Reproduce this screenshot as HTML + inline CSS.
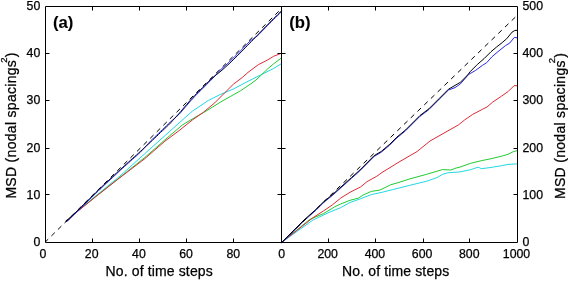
<!DOCTYPE html>
<html><head><meta charset="utf-8"><style>
html,body{margin:0;padding:0;background:#fff;}
svg{display:block;}
text{font-family:"Liberation Sans",Arial,sans-serif;fill:#000;stroke:#000;stroke-width:0.25px;}
.tk{font-size:12.3px;}
.lab{font-size:14px;letter-spacing:0.13px;}
.ylab{letter-spacing:0.3px;}
.pl{font-size:16.7px;font-weight:bold;stroke-width:0.1px;}
</style></head><body>
<svg width="568" height="281" viewBox="0 0 568 281">
<rect width="568" height="281" fill="#fff"/>
<polyline points="65.8,221.0 95.0,196.5 120.0,176.0 144.9,153.6 169.9,131.2 192.3,111.2 208.5,100.4 220.9,94.2 233.4,89.0 248.0,81.3 260.8,74.9 273.6,68.5 281.5,63.6" fill="none" stroke="#20d8e4" stroke-width="1.0" stroke-linejoin="round" />
<polyline points="65.8,221.0 95.0,197.0 120.0,177.3 144.9,157.4 164.9,139.9 182.3,125.0 194.8,117.5 203.5,112.6 212.2,107.3 220.9,101.8 230.9,96.2 240.8,90.6 250.8,83.8 256.0,80.0 260.8,75.5 267.2,69.3 273.6,63.8 281.5,57.9" fill="none" stroke="#20cc30" stroke-width="1.0" stroke-linejoin="round" />
<polyline points="65.8,221.0 95.0,197.3 120.0,177.6 144.9,158.6 164.9,141.2 179.9,130.0 192.3,120.0 203.5,112.2 214.7,102.9 224.6,92.9 233.4,84.2 242.3,77.5 248.0,72.4 258.3,64.7 267.2,60.2 273.6,56.3 281.5,53.2" fill="none" stroke="#dc2c34" stroke-width="1.0" stroke-linejoin="round" />
<polyline points="65.8,221.8 67.8,220.9 69.8,218.9 71.8,216.9 73.9,214.9 75.9,212.9 77.9,211.0 79.9,209.0 81.9,207.0 83.9,205.0 86.0,203.0 88.0,201.1 90.0,199.1 92.0,197.1 94.0,195.1 96.0,193.1 98.1,191.2 100.1,189.2 102.1,187.3 104.1,185.4 106.1,183.5 108.1,181.7 110.1,179.8 112.2,177.9 114.2,176.0 116.2,174.1 118.2,172.3 120.2,170.4 122.2,168.6 124.3,166.7 126.3,164.9 128.3,163.1 130.3,161.3 132.3,159.5 134.3,157.7 136.4,155.9 138.4,154.0 140.4,152.2 142.4,150.0 144.4,147.8 146.4,145.6 148.5,143.3 150.5,141.1 152.5,139.2 154.5,137.2 156.5,135.3 158.5,133.4 160.5,131.4 162.6,129.5 164.6,127.6 166.6,125.6 168.6,123.7 170.6,121.8 172.6,120.0 174.7,118.2 176.7,116.4 178.7,114.6 180.7,112.6 182.7,110.2 184.7,107.8 186.8,105.4 188.8,103.0 190.8,100.7 192.8,98.6 194.8,96.4 196.8,94.4 198.8,92.3 200.9,90.3 202.9,88.3 204.9,86.3 206.9,84.3 208.9,82.2 210.9,80.2 213.0,78.1 215.0,75.8 217.0,73.6 219.0,71.3 221.0,69.4 223.0,67.6 225.1,65.8 227.1,64.0 229.1,62.2 231.1,60.2 233.1,58.2 235.1,56.2 237.2,54.2 239.2,52.2 241.2,50.2 243.2,48.1 245.2,46.0 247.2,44.0 249.2,41.9 251.3,40.2 253.3,38.8 255.3,37.4 257.3,35.9 259.3,34.0 261.3,31.9 263.4,29.8 265.4,27.7 267.4,25.7 269.4,23.7 271.4,21.6 273.4,19.6 275.5,17.6 277.5,15.6 279.5,13.7 281.5,11.7" fill="none" stroke="#2828e8" stroke-width="1.0" stroke-linejoin="round" />
<polyline points="65.8,221.0 67.8,220.1 69.8,218.1 71.8,216.1 73.9,214.1 75.9,212.1 77.9,210.2 79.9,208.2 81.9,206.2 83.9,204.2 86.0,202.2 88.0,200.3 90.0,198.3 92.0,196.3 94.0,194.3 96.0,192.3 98.1,190.4 100.1,188.4 102.1,186.5 104.1,184.6 106.1,182.7 108.1,180.9 110.1,179.0 112.2,177.1 114.2,175.2 116.2,173.3 118.2,171.5 120.2,169.6 122.2,167.8 124.3,165.9 126.3,164.1 128.3,162.3 130.3,160.5 132.3,158.7 134.3,156.9 136.4,155.1 138.4,153.2 140.4,151.4 142.4,149.6 144.4,147.8 146.4,145.9 148.5,144.0 150.5,142.1 152.5,140.2 154.5,138.3 156.5,136.4 158.5,134.5 160.5,132.5 162.6,130.6 164.6,128.7 166.6,126.8 168.6,124.9 170.6,122.9 172.6,120.6 174.7,118.4 176.7,116.1 178.7,113.9 180.7,111.6 182.7,109.2 184.7,106.8 186.8,104.4 188.8,102.0 190.8,99.7 192.8,97.6 194.8,95.4 196.8,93.4 198.8,91.3 200.9,89.3 202.9,87.3 204.9,85.3 206.9,83.3 208.9,81.2 210.9,79.2 213.0,77.4 215.0,75.8 217.0,74.2 219.0,72.6 221.0,71.0 223.0,69.3 225.1,67.4 227.1,65.6 229.1,63.8 231.1,61.9 233.1,59.9 235.1,57.9 237.2,55.9 239.2,53.9 241.2,51.9 243.2,49.9 245.2,47.8 247.2,45.7 249.2,43.7 251.3,41.6 253.3,39.5 255.3,37.4 257.3,35.3 259.3,33.2 261.3,31.1 263.4,29.0 265.4,26.9 267.4,24.9 269.4,22.9 271.4,20.8 273.4,18.8 275.5,16.8 277.5,14.8 279.5,12.9 281.5,10.9" fill="none" stroke="#000030" stroke-width="1.0" stroke-linejoin="round" />
<line x1="45.5" y1="241.8" x2="281.5" y2="8.6" stroke="#000" stroke-width="1.0" stroke-dasharray="4.8 4.46" stroke-dashoffset="1.0"/>
<polyline points="281.5,242.5 313.0,220.0 329.0,212.4 340.8,207.6 350.0,202.5 360.7,198.7 371.3,194.6 382.0,192.3 392.7,189.6 409.8,185.3 426.3,181.3 437.0,177.6 442.4,174.4 447.7,172.8 460.0,171.9 470.7,169.7 478.1,167.1 481.3,168.7 489.9,167.6 502.7,165.5 508.0,164.4 517.5,163.9" fill="none" stroke="#20d8e4" stroke-width="1.0" stroke-linejoin="round" />
<polyline points="281.5,242.5 309.8,219.4 323.7,213.5 334.4,207.0 340.8,203.9 350.0,200.3 358.5,198.1 362.8,195.2 371.3,191.4 379.9,190.1 390.6,184.8 398.0,182.7 409.8,178.9 426.3,174.4 437.0,171.2 442.4,169.6 450.9,170.0 456.2,168.0 460.0,167.1 470.7,163.3 481.3,160.7 492.0,158.5 502.7,155.9 508.0,154.3 513.4,151.6 517.5,150.5" fill="none" stroke="#20cc30" stroke-width="1.0" stroke-linejoin="round" />
<polyline points="281.5,242.5 313.0,217.7 323.7,210.8 332.2,205.0 340.8,198.0 350.0,192.3 360.7,186.9 367.1,181.6 376.7,176.3 382.0,172.5 400.0,161.4 417.0,151.6 430.0,141.0 458.3,125.0 464.8,119.8 472.7,114.4 482.7,109.2 487.0,107.0 492.7,102.1 501.2,96.4 508.3,91.4 514.0,85.7 517.5,85.7" fill="none" stroke="#dc2c34" stroke-width="1.0" stroke-linejoin="round" />
<polyline points="281.5,243.3 304.0,220.8 316.2,210.0 323.7,202.5 332.2,195.6 337.0,191.3 351.5,178.3 359.9,170.8 374.2,156.4 381.3,152.2 389.8,145.0 396.9,137.9 405.5,130.8 420.0,116.3 428.9,109.6 439.6,98.9 448.5,90.0 455.0,87.6 460.2,84.1 468.8,74.3 475.6,70.4 482.5,65.3 486.7,62.7 491.9,56.8 498.0,51.6 505.5,45.6 509.9,42.9 514.3,37.4 517.5,37.9" fill="none" stroke="#2828e8" stroke-width="1.0" stroke-linejoin="round" />
<polyline points="281.5,242.5 304.0,220.0 316.2,209.2 323.7,201.7 332.2,194.8 337.0,190.5 351.5,177.5 359.9,170.0 374.2,155.6 381.3,151.4 389.8,144.2 396.9,137.1 405.5,130.0 420.0,115.5 428.9,108.8 439.6,98.1 448.5,89.2 460.2,82.4 467.1,75.6 470.5,71.3 477.3,64.5 484.2,58.5 491.0,51.7 496.6,47.0 502.2,42.6 506.6,38.8 512.1,32.1 514.8,30.5 517.5,30.2" fill="none" stroke="#000000" stroke-width="1.0" stroke-linejoin="round" />
<line x1="281.5" y1="242.5" x2="516.5" y2="16.0" stroke="#000" stroke-width="1.0" stroke-dasharray="4.85 4.5" stroke-dashoffset="-1.87"/>
<path d="M45.5 6.5H517.5V242.5H45.5Z M281.5 6.5V242.5" fill="none" stroke="#000" stroke-width="1"/>
<path d="M92.5 242V238.5M92.5 7V10.5M139.5 242V238.5M139.5 7V10.5M186.5 242V238.5M186.5 7V10.5M233.5 242V238.5M233.5 7V10.5M328.5 242V238.5M328.5 7V10.5M375.5 242V238.5M375.5 7V10.5M423.5 242V238.5M423.5 7V10.5M469.5 242V238.5M469.5 7V10.5M46 194.5H49.5M281 194.5H277.5M282 194.5H285.5M517 194.5H513.5M46 148.5H49.5M281 148.5H277.5M282 148.5H285.5M517 148.5H513.5M46 100.5H49.5M281 100.5H277.5M282 100.5H285.5M517 100.5H513.5M46 53.5H49.5M281 53.5H277.5M282 53.5H285.5M517 53.5H513.5" stroke="#000" stroke-width="1"/>
<g class="tk"><text x="40.3" y="246.0" text-anchor="end">0</text><text x="522.5" y="246.0">0</text><text x="40.3" y="198.8" text-anchor="end">10</text><text x="522.5" y="198.8">100</text><text x="40.3" y="151.6" text-anchor="end">20</text><text x="522.5" y="151.6">200</text><text x="40.3" y="104.4" text-anchor="end">30</text><text x="522.5" y="104.4">300</text><text x="40.3" y="57.2" text-anchor="end">40</text><text x="522.5" y="57.2">400</text><text x="40.3" y="10.0" text-anchor="end">50</text><text x="522.5" y="10.0">500</text><text x="43.0" y="257.8" text-anchor="middle">0</text><text x="281.7" y="258.4" text-anchor="middle">0</text><text x="91.7" y="257.8" text-anchor="middle">20</text><text x="327.7" y="257.8" text-anchor="middle">200</text><text x="138.9" y="257.8" text-anchor="middle">40</text><text x="374.9" y="257.8" text-anchor="middle">400</text><text x="186.1" y="257.8" text-anchor="middle">60</text><text x="422.1" y="257.8" text-anchor="middle">600</text><text x="233.3" y="257.8" text-anchor="middle">80</text><text x="469.3" y="257.8" text-anchor="middle">800</text><text x="516.5" y="257.8" text-anchor="middle">1000</text></g>
<text class="lab" x="105.6" y="276">No. of time steps</text>
<text class="lab" x="342.1" y="276">No. of time steps</text>
<text class="lab ylab" transform="translate(15.8 198.6) rotate(-90)">MSD (nodal spacings<tspan font-size="9.5" dx="-3" dy="-9.3">2</tspan><tspan dy="9.3">)</tspan></text>
<text class="lab ylab" transform="translate(564.5 199.0) rotate(-90)">MSD (nodal spacings<tspan font-size="9.5" dx="-3" dy="-9.3">2</tspan><tspan dy="9.3">)</tspan></text>
<text class="pl" x="52.9" y="27.5">(a)</text>
<text class="pl" x="289.3" y="27.5">(b)</text>
</svg>
</body></html>
